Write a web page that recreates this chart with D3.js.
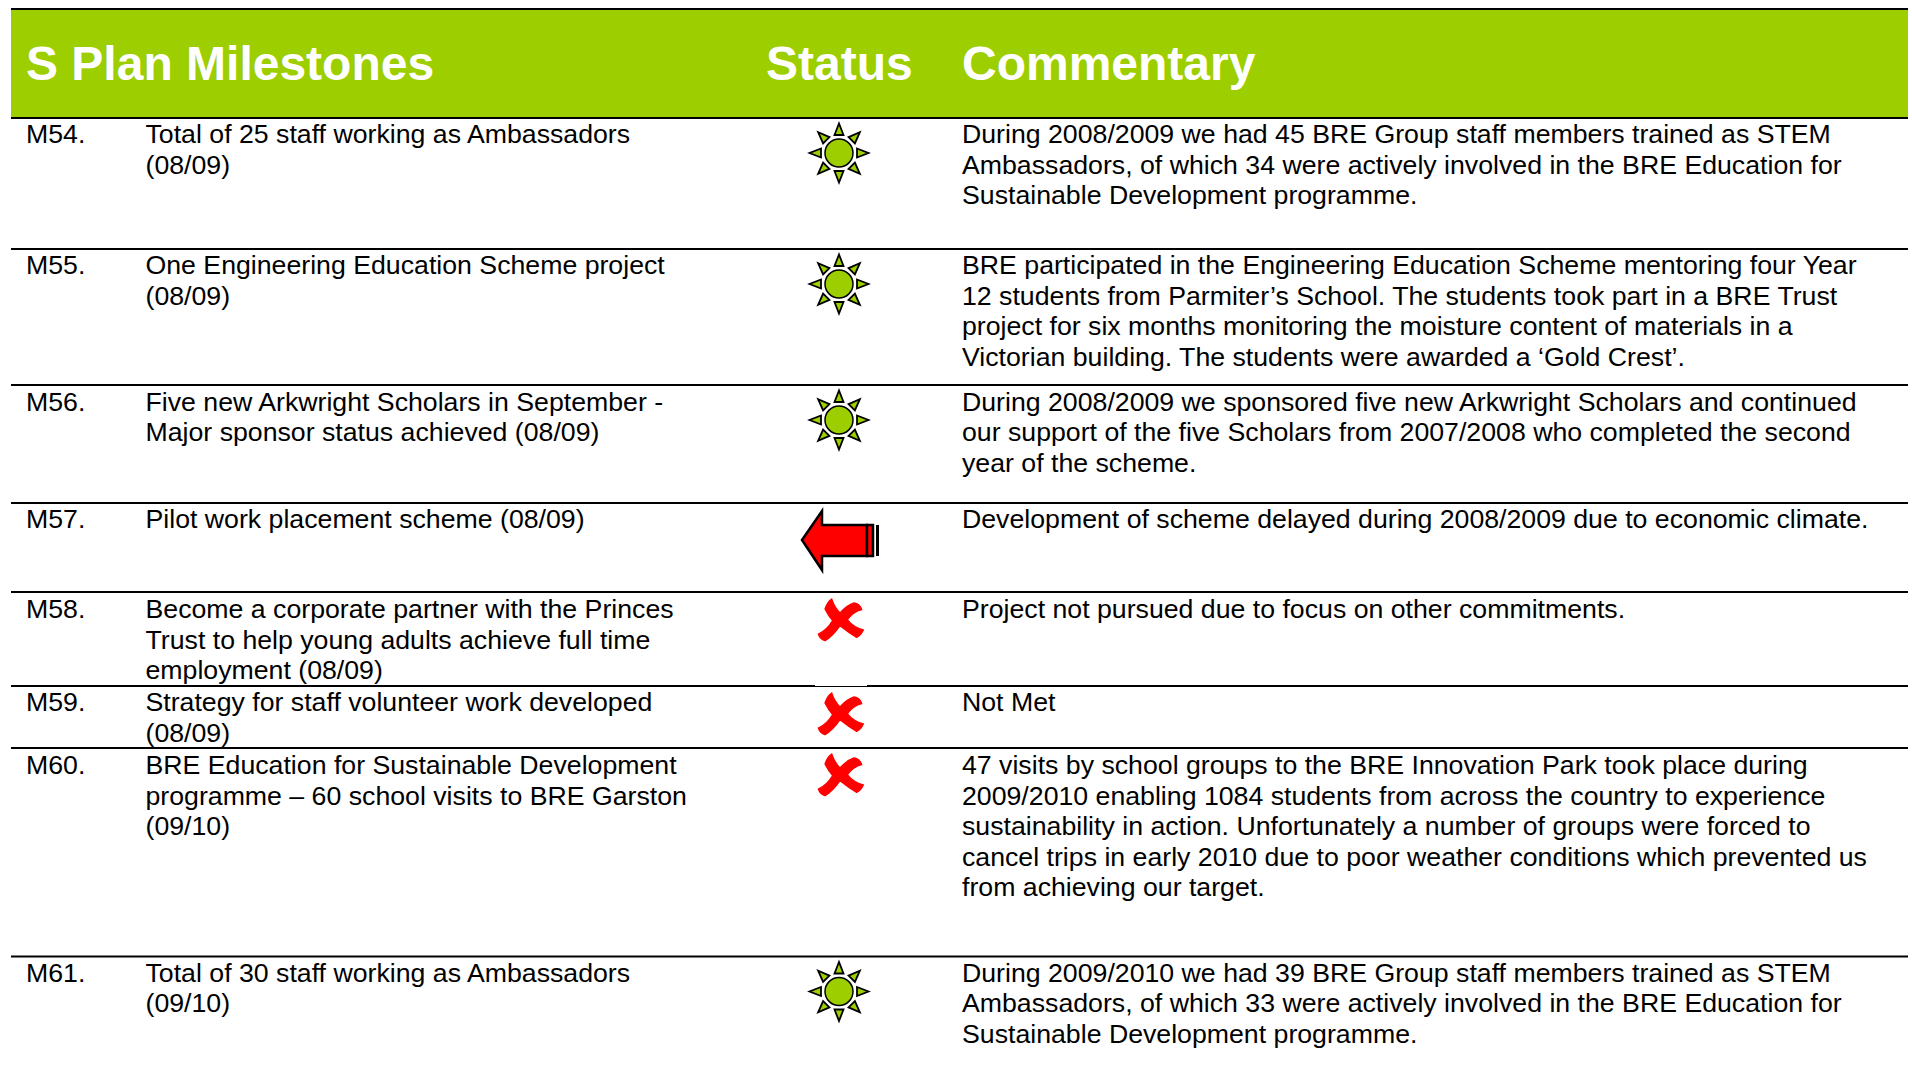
<!DOCTYPE html>
<html>
<head>
<meta charset="utf-8">
<script src="https://cdn.jsdelivr.net/npm/d3@7"></script>
<style>
    html, body { margin: 0; padding: 0; background: #fff; overflow: hidden; }
    text { font-family: "Liberation Sans", Arial, sans-serif; }
</style>
</head>
<body>
<div id="visualization"></div>
<script>
const headers = ['S Plan Milestones', 'Status', 'Commentary'];
const rowIds = ['M54.', 'M55.', 'M56.', 'M57.', 'M58.', 'M59.', 'M60.', 'M61.'];
const milestones = [
    ['Total of 25 staff working as Ambassadors', '(08/09)'],
    ['One Engineering Education Scheme project', '(08/09)'],
    ['Five new Arkwright Scholars in September -', 'Major sponsor status achieved (08/09)'],
    ['Pilot work placement scheme (08/09)'],
    ['Become a corporate partner with the Princes', 'Trust to help young adults achieve full time', 'employment (08/09)'],
    ['Strategy for staff volunteer work developed', '(08/09)'],
    ['BRE Education for Sustainable Development', 'programme \u2013 60 school visits to BRE Garston', '(09/10)'],
    ['Total of 30 staff working as Ambassadors', '(09/10)']
];
const statuses = ['met', 'met', 'met', 'delayed', 'missed', 'missed', 'missed', 'met'];
const commentary = [
    ['During 2008/2009 we had 45 BRE Group staff members trained as STEM', 'Ambassadors, of which 34 were actively involved in the BRE Education for', 'Sustainable Development programme.'],
    ['BRE participated in the Engineering Education Scheme mentoring four Year', '12 students from Parmiter\u2019s School. The students took part in a BRE Trust', 'project for six months monitoring the moisture content of materials in a', 'Victorian building. The students were awarded a \u2018Gold Crest\u2019.'],
    ['During 2008/2009 we sponsored five new Arkwright Scholars and continued', 'our support of the five Scholars from 2007/2008 who completed the second', 'year of the scheme.'],
    ['Development of scheme delayed during 2008/2009 due to economic climate.'],
    ['Project not pursued due to focus on other commitments.'],
    ['Not Met'],
    ['47 visits by school groups to the BRE Innovation Park took place during', '2009/2010 enabling 1084 students from across the country to experience', 'sustainability in action. Unfortunately a number of groups were forced to', 'cancel trips in early 2010 due to poor weather conditions which prevented us', 'from achieving our target.'],
    ['During 2009/2010 we had 39 BRE Group staff members trained as STEM', 'Ambassadors, of which 33 were actively involved in the BRE Education for', 'Sustainable Development programme.']
];
// row heights
const rowHeights = [131, 136, 118, 89, 94, 62, 208.5, 126];

const width = 1912;
const height = 1082;
const green = '#9CCE00';
const red = '#FF0000';
const tableLeft = 11;
const tableRight = 1908;
const tableTop = 118;
const lineHeight = 30.5;
const fontSize = 26.7;
// first baseline below the rule, a bit lower in some rows
const baselines = { 'M56.': 25.5, 'M58.': 26, 'M60.': 26 };

const svg = d3.select('#visualization')
    .append('svg')
    .attr('width', width)
    .attr('height', height)
    .style('display', 'block');

const rowEdges = [0, ...d3.cumsum(rowHeights)];
const y = d3.scaleLinear()
    .domain([0, d3.sum(rowHeights)])
    .range([tableTop, tableTop + d3.sum(rowHeights)]);
const columns = d3.scaleOrdinal()
    .domain(['id', 'milestone', 'status', 'commentary'])
    .range([26, 145.5, 839, 962]);

const rows = rowIds.map((id, i) => ({
    id: id,
    top: y(rowEdges[i]),
    milestone: milestones[i],
    status: statuses[i],
    commentary: commentary[i]
}));

// Header band
svg.append('rect')
    .attr('x', tableLeft)
    .attr('y', 9)
    .attr('width', tableRight - tableLeft)
    .attr('height', tableTop - 9)
    .attr('fill', green);

svg.append('line')
    .attr('x1', tableLeft)
    .attr('x2', tableRight)
    .attr('y1', 9)
    .attr('y2', 9)
    .attr('stroke', '#000')
    .attr('stroke-width', 2);

svg.append('g')
    .selectAll('text')
    .data(headers)
    .join('text')
    .attr('x', (d, i) => [26, 766, 962][i])
    .attr('y', 80)
    .attr('fill', '#fff')
    .attr('font-size', 48)
    .attr('font-weight', 'bold')
    .text(d => d);

// Row rules
svg.append('g')
    .selectAll('line')
    .data(rows)
    .join('line')
    .attr('x1', tableLeft)
    .attr('x2', tableRight)
    .attr('y1', d => d.top)
    .attr('y2', d => d.top)
    .attr('stroke', '#000')
    .attr('stroke-width', 2);

const row = svg.append('g')
    .selectAll('g')
    .data(rows)
    .join('g')
    .attr('transform', d => `translate(0,${d.top})`);

// Text columns
function addLines(sel, x, accessor) {
    sel.append('text')
        .attr('font-size', fontSize)
        .attr('fill', '#000')
        .each(function(d) {
            const el = d3.select(this);
            const base = baselines[d.id] || 25;
            accessor(d).forEach((line, i) => {
                el.append('tspan')
                    .attr('x', x)
                    .attr('y', base + i * lineHeight)
                    .text(line);
            });
        });
}

addLines(row, columns('id'), d => [d.id]);
addLines(row, columns('milestone'), d => d.milestone);
addLines(row, columns('commentary'), d => d.commentary);

// Status icons
function drawSun(g) {
    g.attr('transform', `translate(${columns('status')},35)`);
    g.selectAll('path')
        .data(d3.range(8))
        .join('path')
        .attr('d', 'M-4.5,-18 L0,-29.5 L4.5,-18 Z')
        .attr('transform', i => `rotate(${i * 45})`)
        .attr('fill', green)
        .attr('stroke', '#000')
        .attr('stroke-width', 1.8)
        .attr('stroke-linejoin', 'miter');
    g.append('circle')
        .attr('r', 14)
        .attr('fill', green)
        .attr('stroke', '#000')
        .attr('stroke-width', 1.5);
}

function drawArrow(g) {
    g.attr('transform', `translate(${columns('status')},37)`);
    g.append('path')
        .attr('d', 'M-37,0 L-17,-29 L-17,-15 L28,-15 L28,16 L-17,16 L-17,30 Z')
        .attr('fill', red)
        .attr('stroke', '#000')
        .attr('stroke-width', 2.5);
    g.append('rect')
        .attr('x', 28)
        .attr('y', -15)
        .attr('width', 6)
        .attr('height', 31)
        .attr('fill', red)
        .attr('stroke', '#000')
        .attr('stroke-width', 2.5);
    g.append('rect')
        .attr('x', 37)
        .attr('y', -15)
        .attr('width', 3)
        .attr('height', 31)
        .attr('fill', '#000');
}

function drawCross(g) {
    g.attr('transform', d => `translate(${columns('status') + 1},${{ 'M58.': 27, 'M59.': 27, 'M60.': 26 }[d.id]})`);
    g.append('path')
        .attr('d', 'M-45,-30 Q-38,-52 -25,-60 Q-17,-35 0,-18 Q22,-42 42,-48 Q60,-45 65,-28 Q40,-22 22,2 Q40,25 70,33 Q62,50 50,55 Q25,40 0,20 Q-22,52 -45,65 Q-60,60 -65,45 Q-40,35 -22,5 Q-35,-10 -45,-30 Z')
        .attr('transform', 'scale(0.3333)')
        .attr('fill', red)
        .attr('stroke', red)
        .attr('stroke-width', 4);
}

row.filter(d => d.status === 'met').append('g').call(drawSun);
row.filter(d => d.status === 'delayed').append('g').call(drawArrow);
row.filter(d => d.status === 'missed').append('g').call(drawCross);

// The M59 cross sits on a white box that clips the top of its rule
row.filter(d => d.id === 'M59.').append('rect')
    .attr('x', 815)
    .attr('y', -1)
    .attr('width', 52)
    .attr('height', 1)
    .attr('fill', '#fff');
</script>
</body>
</html>
